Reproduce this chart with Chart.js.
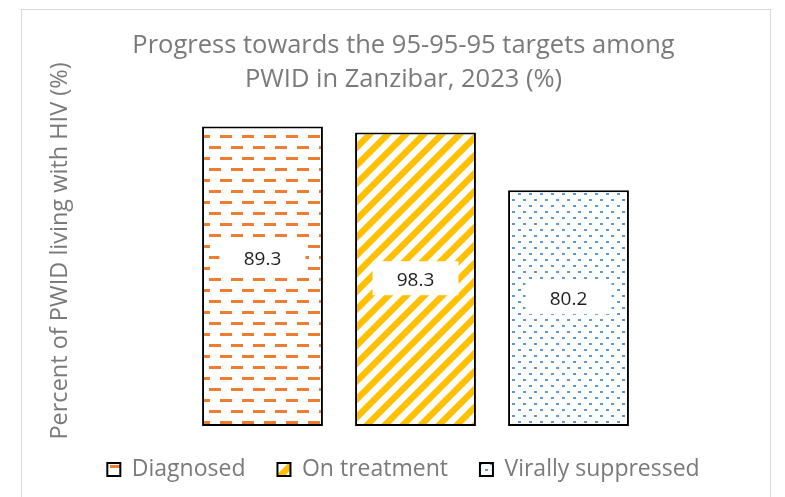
<!DOCTYPE html>
<html>
<head>
<meta charset="utf-8">
<script src="https://cdn.jsdelivr.net/npm/chart.js@4.4.1/dist/chart.umd.min.js"></script>
<style>
  html, body { margin: 0; padding: 0; background: #fff; overflow: hidden; }
  #marco { position: absolute; left: 21px; top: 9px; width: 748px; height: 530px; border: 1px solid #d9d9d9; }
  #myChart { position: absolute; left: 0; top: 0; }
</style>
</head>
<body>
<div id="marco"></div>
<canvas id="myChart" width="785" height="491"></canvas>
<script>
const categorias = ["Diagnosed", "On treatment", "Virally suppressed"];
// altura de cada barra (eje oculto de 0 a 100)
const alturas = [94.8, 92.9, 74.6];
// texto que el original pone dentro de cada barra
const etiquetas = ["89.3", "98.3", "80.2"];
const titulo = ["Progress towards the 95-95-95 targets among", "PWID in Zanzibar, 2023 (%)"];
const tituloEje = "Percent of PWID living with HIV (%)";

const ctx = document.getElementById("myChart");
const g2d = ctx.getContext("2d");
const gris = "#7a7a7a";
const fuente = "'Open Sans'";

const crearPatron = (ancho, alto, dibujar) => {
  const c = document.createElement("canvas");
  c.width = ancho;
  c.height = alto;
  const g = c.getContext("2d");
  g.fillStyle = "#fff";
  g.fillRect(0, 0, ancho, alto);
  dibujar(g);
  return g2d.createPattern(c, "repeat");
};

// guiones naranjas
const guiones = crearPatron(22, 22, (g) => {
  g.fillStyle = "#ED7D31";
  g.fillRect(0, 3, 12, 3);
  g.fillRect(11, 14, 11, 3);
  g.fillRect(0, 14, 1, 3);
});
// rayas diagonales amarillas
const rayas = crearPatron(18, 18, (g) => {
  g.strokeStyle = "#FFC000";
  g.lineWidth = 6.4;
  g.beginPath();
  g.moveTo(-9, 9); g.lineTo(9, -9);
  g.moveTo(0, 18); g.lineTo(18, 0);
  g.moveTo(9, 27); g.lineTo(27, 9);
  g.stroke();
});
// puntos azules
const puntos = crearPatron(11, 12, (g) => {
  g.fillStyle = "#5B9BD5";
  g.fillRect(1, 1, 3, 2);
  g.fillRect(6, 7, 3, 2);
});
const patrones = [guiones, rayas, puntos];

const desplazamiento = [-17, 1, -9];

const pluginEtiquetas = {
  id: "etiquetas",
  afterDatasetsDraw(chart) {
    const c = chart.ctx;
    chart.getDatasetMeta(0).data.forEach((barra, i) => {
      const y = (barra.y + barra.base) / 2 + desplazamiento[i];
      c.save();
      c.fillStyle = "#fff";
      c.fillRect(barra.x - 43, y - 19, 86, 34);
      c.fillStyle = "#1e1e1e";
      c.font = "19px " + fuente;
      c.textAlign = "center";
      c.textBaseline = "middle";
      c.fillText(etiquetas[i], barra.x, y);
      c.restore();
    });
  },
};

const pluginTituloEje = {
  id: "tituloEje",
  afterDraw(chart) {
    const c = chart.ctx;
    c.save();
    c.translate(60, 251);
    c.rotate(-Math.PI / 2);
    c.fillStyle = gris;
    c.font = "23.5px " + fuente;
    c.textAlign = "center";
    c.textBaseline = "middle";
    c.fillText(tituloEje, 0, 0);
    c.restore();
  },
};

const ejeVacio = (ancho, lado) => ({
  position: lado,
  min: 0,
  max: 100,
  ticks: { display: false },
  grid: { display: false },
  border: { display: false },
  afterFit: (s) => { s.width = ancho; },
});

new Chart(ctx, {
  type: "bar",
  data: {
    labels: categorias,
    datasets: [
      {
        data: alturas,
        backgroundColor: patrones,
        borderColor: "#000",
        borderWidth: 2,
        borderSkipped: false,
        barPercentage: 0.79,
        categoryPercentage: 1,
      },
    ],
  },
  options: {
    responsive: false,
    animation: false,
    layout: { padding: { left: 22, right: 0, top: 0, bottom: 0 } },
    scales: {
      x: { display: false },
      y: ejeVacio(164, "left"),
      y2: ejeVacio(140, "right"),
    },
    plugins: {
      title: {
        display: true,
        text: titulo,
        color: gris,
        font: { family: fuente, size: 25.5, weight: "normal", lineHeight: 1.333 },
        padding: { top: 29, bottom: 13 },
      },
      legend: {
        position: "bottom",
        labels: {
          font: { family: fuente, size: 23 },
          color: gris,
          boxWidth: 13,
          boxHeight: 13,
          padding: 32,
          generateLabels: () =>
            categorias.map((c, i) => ({
              text: c,
              fillStyle: patrones[i],
              strokeStyle: "#000",
              fontColor: gris,
              lineWidth: 2,
              hidden: false,
              index: i,
            })),
        },
      },
      tooltip: { enabled: false },
    },
  },
  plugins: [pluginEtiquetas, pluginTituloEje],
});
</script>
</body>
</html>
